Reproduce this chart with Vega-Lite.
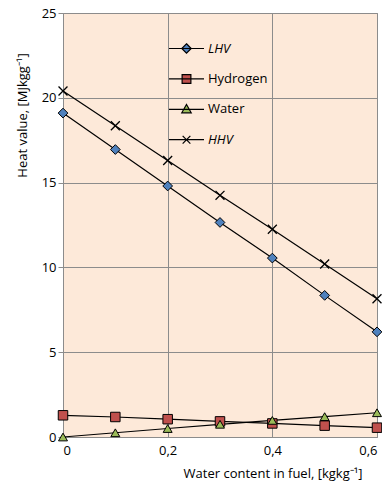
{
  "$schema": "https://vega.github.io/schema/vega-lite/v6.json",
  "width": 314,
  "height": 424,
  "autosize": "none",
  "padding": {"left": 63, "top": 13, "right": 5, "bottom": 47},
  "background": "white",
  "config": {
    "font": "Open Sans",
    "view": {"fill": "#FDE9D9", "stroke": "#8C8C8C", "strokeWidth": 1}
  },
  "data": {
    "values": [
      {"x": 0, "series": "LHV", "y": 19.1},
      {"x": 0.1, "series": "LHV", "y": 16.95},
      {"x": 0.2, "series": "LHV", "y": 14.8},
      {"x": 0.3, "series": "LHV", "y": 12.65},
      {"x": 0.4, "series": "LHV", "y": 10.55},
      {"x": 0.5, "series": "LHV", "y": 8.35},
      {"x": 0.6, "series": "LHV", "y": 6.2},
      {"x": 0, "series": "Hydrogen", "y": 1.28},
      {"x": 0.1, "series": "Hydrogen", "y": 1.18},
      {"x": 0.2, "series": "Hydrogen", "y": 1.05},
      {"x": 0.3, "series": "Hydrogen", "y": 0.92},
      {"x": 0.4, "series": "Hydrogen", "y": 0.8},
      {"x": 0.5, "series": "Hydrogen", "y": 0.67},
      {"x": 0.6, "series": "Hydrogen", "y": 0.55},
      {"x": 0, "series": "Water", "y": 0},
      {"x": 0.1, "series": "Water", "y": 0.25},
      {"x": 0.2, "series": "Water", "y": 0.5},
      {"x": 0.3, "series": "Water", "y": 0.75},
      {"x": 0.4, "series": "Water", "y": 0.98},
      {"x": 0.5, "series": "Water", "y": 1.2},
      {"x": 0.6, "series": "Water", "y": 1.43},
      {"x": 0, "series": "HHV", "y": 20.4},
      {"x": 0.1, "series": "HHV", "y": 18.35},
      {"x": 0.2, "series": "HHV", "y": 16.3},
      {"x": 0.3, "series": "HHV", "y": 14.25},
      {"x": 0.4, "series": "HHV", "y": 12.25},
      {"x": 0.5, "series": "HHV", "y": 10.2},
      {"x": 0.6, "series": "HHV", "y": 8.15}
    ]
  },
  "encoding": {
    "x": {
      "field": "x", "type": "quantitative",
      "scale": {"domain": [0, 0.6], "nice": false, "zero": false},
      "axis": {
        "values": [0, 0.2, 0.4, 0.6],
        "title": "Water content in fuel, [kgkg⁻¹]",
        "labelExpr": "replace(format(datum.value, '.1~f'), '.', ',')",
        "labelFontSize": 13, "labelColor": "#000", "labelPadding": 7,
        "ticks": false, "domain": false,
        "grid": true, "gridColor": "#8C8C8C", "gridWidth": 1,
        "titleFontSize": 13, "titleFontWeight": "normal", "titleColor": "#000",
        "titleAnchor": "end", "titleAlign": "right", "titleX": 299, "titleY": 36, "titleBaseline": "middle"
      }
    },
    "y": {
      "field": "y", "type": "quantitative",
      "scale": {"domain": [0, 25], "nice": false},
      "axis": {
        "values": [0, 5, 10, 15, 20, 25],
        "title": "Heat value, [MJkgg⁻¹]",
        "labelFontSize": 13, "labelColor": "#000", "labelPadding": 2,
        "tickSize": 5, "tickColor": "#8C8C8C", "domain": false,
        "grid": true, "gridColor": "#8C8C8C", "gridWidth": 1,
        "titleFontSize": 13, "titleFontWeight": "normal", "titleColor": "#000",
        "titleAngle": -90, "titleAlign": "center", "titleBaseline": "middle",
        "titleX": -41, "titleY": 102
      }
    }
  },
  "layer": [
    {
      "mark": {"type": "line", "color": "black", "strokeWidth": 1.2},
      "encoding": {"detail": {"field": "series"}}
    },
    {
      "transform": [{"filter": "datum.series == 'LHV'"}],
      "mark": {"type": "point", "shape": "diamond", "filled": true, "fill": "#4F81BD", "opacity": 1, "stroke": "black", "strokeWidth": 1, "size": 95}
    },
    {
      "transform": [{"filter": "datum.series == 'Hydrogen'"}],
      "mark": {"type": "point", "shape": "square", "filled": true, "fill": "#C0504D", "opacity": 1, "stroke": "black", "strokeWidth": 1, "size": 90}
    },
    {
      "transform": [{"filter": "datum.series == 'Water'"}],
      "mark": {"type": "point", "shape": "triangle-up", "filled": true, "fill": "#9BBB59", "opacity": 1, "stroke": "black", "strokeWidth": 1, "size": 80}
    },
    {
      "transform": [{"filter": "datum.series == 'HHV'"}],
      "mark": {"type": "point", "shape": "M-1,-1L1,1M-1,1L1,-1", "filled": false, "opacity": 1, "stroke": "black", "strokeWidth": 1.3, "size": 80}
    },
    {
      "transform": [{"filter": "datum.x > 100"}],
      "mark": {"type": "point", "filled": true, "opacity": 1, "strokeWidth": 1.2, "size": 1225},
      "encoding": {
        "shape": {
          "field": "series", "type": "nominal",
          "scale": {"domain": ["LHV", "Hydrogen", "Water", "HHV"], "range": [
            "M-1,0H1M0,-0.27L0.27,0L0,0.27L-0.27,0Z",
            "M-1,0H1M-0.25,-0.25H0.25V0.25H-0.25Z",
            "M-1,0H1M0,-0.27L0.27,0.2H-0.27Z",
            "M-1,0H1M-0.22,-0.22L0.22,0.22M-0.22,0.22L0.22,-0.22"
          ]},
          "legend": {
            "orient": "none", "legendX": 105, "legendY": 17,
            "title": null, "symbolSize": 1225,
            "symbolStrokeWidth": 1.2, "symbolOpacity": 1,
            "labelFontSize": 13, "labelColor": "#000", "labelOffset": 3,
            "labelFontStyle": {"expr": "datum.label == 'LHV' || datum.label == 'HHV' ? 'italic' : 'normal'"},
            "rowPadding": 4.4
          }
        },
        "fill": {
          "field": "series", "type": "nominal",
          "scale": {"domain": ["LHV", "Hydrogen", "Water", "HHV"], "range": ["#4F81BD", "#C0504D", "#9BBB59", "#000000"]}
        },
        "stroke": {
          "field": "series", "type": "nominal",
          "scale": {"domain": ["LHV", "Hydrogen", "Water", "HHV"], "range": ["#000000", "#000000", "#000000", "#000000"]}
        }
      }
    }
  ]
}
